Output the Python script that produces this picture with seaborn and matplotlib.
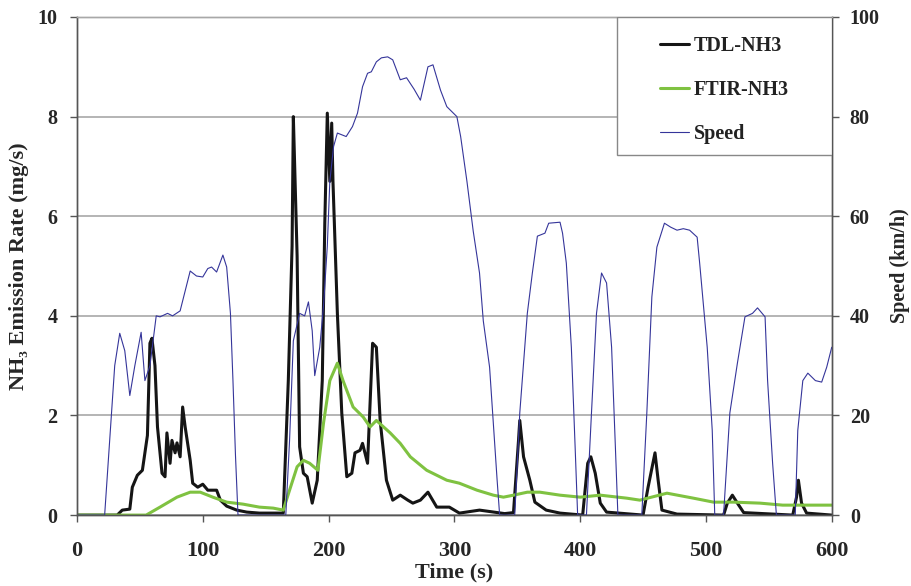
import matplotlib
matplotlib.use("Agg")
import matplotlib.pyplot as plt
from matplotlib.patches import Rectangle
import seaborn as sns

# Time (s) / speed (km/h)
speed_t = [0, 22, 26, 30, 34, 38, 42, 46, 51, 54, 58, 63, 66, 72, 76, 82, 86, 90, 95, 100,
           104, 107, 111, 116, 119, 122, 124, 126, 128, 166, 169, 172, 177, 181, 184, 187, 189,
           193, 196, 199, 201, 204, 207, 214, 219, 223, 227, 231, 234, 238, 242, 247, 251, 257,
           262, 268, 273, 279, 283, 289, 294, 302, 305, 310, 315, 320, 323, 328, 334, 336, 348,
           352, 358, 362, 366, 372, 375, 384, 386, 389, 393, 396, 398, 405, 409, 413, 417, 421,
           425, 428, 430, 449, 453, 457, 461, 467, 472, 477, 482, 487, 493, 495, 501, 505, 507,
           514, 519, 525, 531, 537, 541, 547, 549, 553, 556, 571, 573, 577, 581, 587, 592, 596, 600]
speed_v = [0, 0, 15, 30, 36.5, 33, 24, 30, 36.7, 27, 30, 40, 39.8, 40.5, 40, 41, 45, 49, 48, 47.8,
           49.5, 49.8, 48.8, 52.2, 49.8, 40.5, 27, 12, 0, 0, 15, 35, 40.5, 40, 42.8, 37, 28,
           33.7, 42, 54, 67, 74, 76.7, 76, 78, 80.7, 86, 88.7, 89, 91, 91.8, 92, 91.4, 87.4,
           87.8, 85.5, 83.3, 90, 90.4, 85.3, 82, 80, 76, 67, 57, 48.6, 39, 29.7, 7, 0, 0,
           20.5, 40.5, 48.6, 56, 56.6, 58.6, 58.8, 56.6, 50.6, 33.7, 13.7, 0, 0, 20.5, 40.5, 48.6, 46.6,
           33.7, 13.7, 0, 0, 20.5, 43.8, 53.8, 58.6, 57.8, 57.2, 57.5, 57.2, 55.8, 50.6, 33.7, 17, 0,
           0, 20.5, 30.5, 39.8, 40.5, 41.6, 39.8, 27, 10.4, 0, 0, 17, 27, 28.5, 27, 26.7, 29.7, 33.7]

# TDL-NH3 (mg/s)
tdl_t = [0, 32, 36, 42, 44, 48, 52, 56, 58, 59.6, 62, 64, 67.6, 70, 71.5, 74, 75.5, 78, 79.5, 82,
         84, 86, 90, 92, 96, 100, 104, 108, 111, 114, 119, 127, 135, 145, 164, 168, 171, 172,
         173, 175, 177, 180, 183, 187, 191, 195, 197, 199, 201, 202.5, 203.5, 207, 210.5, 214.5,
         218.5, 221, 225, 227, 231, 235, 238, 241, 246, 251, 257, 263, 267, 273, 279, 286, 296,
         304, 320, 340, 347, 351, 352, 355, 360, 364, 373, 384, 402, 406, 408.5, 412, 416, 421,
         450, 454, 459.5, 462, 465, 477, 514, 517, 521, 525, 530, 569, 572, 573.5, 576, 580, 600]
tdl_v = [0, 0, 0.1, 0.12, 0.56, 0.8, 0.9, 1.6, 3.45, 3.55, 3.0, 1.77, 0.84, 0.77, 1.65, 1.04, 1.5, 1.25, 1.45, 1.17,
         2.17, 1.77, 1.1, 0.64, 0.56, 0.62, 0.5, 0.5, 0.5, 0.3, 0.18, 0.1, 0.06, 0.04, 0.04, 2.7, 5.4, 8.0,
         7.07, 5.2, 1.37, 0.84, 0.77, 0.24, 0.7, 2.7, 5.86, 8.07, 6.7, 7.87, 6.7, 4.05, 2.05, 0.77,
         0.84, 1.25, 1.3, 1.44, 1.04, 3.45, 3.37, 1.9, 0.7, 0.3, 0.4, 0.3, 0.24, 0.3, 0.46, 0.16, 0.16,
         0.04, 0.1, 0.03, 0.05, 1.5, 1.9, 1.17, 0.7, 0.26, 0.1, 0.04, 0, 1.04, 1.17, 0.84, 0.24, 0.06,
         0, 0.56, 1.25, 0.7, 0.1, 0.02, 0, 0.24, 0.4, 0.24, 0.05, 0, 0.36, 0.7, 0.24, 0.04, 0]

# FTIR-NH3 (mg/s)
ftir_t = [0, 55, 66, 79.5, 90, 98, 108, 119, 132, 145, 156, 164, 169, 175, 180, 185, 191.5, 196,
          201, 207, 211.5, 219.5, 227.5, 233, 238, 249, 257, 265, 278, 294, 304, 318, 331, 339,
          347, 358, 368, 384, 400, 416, 437, 447.5, 469, 490, 506, 522, 543, 561, 580, 600]
ftir_v = [0, 0, 0.16, 0.36, 0.46, 0.46, 0.36, 0.26, 0.22, 0.16, 0.14, 0.1, 0.5, 0.97, 1.1, 1.04, 0.9, 1.85,
          2.7, 3.05, 2.7, 2.17, 1.97, 1.77, 1.9, 1.65, 1.44, 1.17, 0.9, 0.7, 0.64, 0.5, 0.4, 0.36,
          0.4, 0.46, 0.46, 0.4, 0.36, 0.4, 0.34, 0.3, 0.44, 0.34, 0.26, 0.26, 0.24, 0.2, 0.2, 0.2]

sns.set_style("white")
plt.rcParams['font.family'] = ['Liberation Serif', 'DejaVu Serif']
plt.rcParams['font.weight'] = 'bold'

fig = plt.figure(figsize=(9.12, 5.86), dpi=100)
ax = fig.add_axes([0.0844, 0.121, 0.8276, 0.850])
ax2 = ax.twinx()

sns.lineplot(x=tdl_t, y=tdl_v, ax=ax, color='#151515', lw=2.2, label='TDL-NH3', legend=False)
sns.lineplot(x=ftir_t, y=ftir_v, ax=ax, color='#7fc241', lw=2.2, label='FTIR-NH3', legend=False)
sns.lineplot(x=speed_t, y=speed_v, ax=ax2, color='#35359a', lw=0.8, label='Speed', legend=False)

ax.set_xlim(0, 600)
ax.set_ylim(0, 10)
ax2.set_ylim(0, 100)
ax.set_xticks(range(0, 601, 100))
ax.set_yticks(range(0, 11, 2))
ax2.set_yticks(range(0, 101, 20))

ax.yaxis.grid(True, color='#a8a8a8', lw=1.2)
ax.xaxis.grid(False)
ax2.grid(False)

for a in (ax, ax2):
    for s in a.spines.values():
        s.set_color('#555555')
        s.set_linewidth(1.0)
    a.spines['top'].set_color('#a8a8a8')
    a.tick_params(direction='out', length=5, width=1, color='#555555', labelsize=14.5)

ax.tick_params(axis='x', pad=14, bottom=True, labelsize=16)
ax.tick_params(axis='y', pad=9, left=True)
ax2.tick_params(axis='y', pad=8, right=True)

ax.set_xlabel('Time (s)', fontsize=16, fontweight='bold', labelpad=1)
ax.set_ylabel('NH₃ Emission Rate (mg/s)', fontsize=16, fontweight='bold', labelpad=6)
ax2.set_ylabel('Speed (km/h)', fontsize=14.5, fontweight='bold', labelpad=7)

# legend box
ax2.add_patch(Rectangle((0.715, 0.723), 0.285, 0.277, transform=ax2.transAxes,
                        facecolor='white', edgecolor='#888888', lw=1.0, zorder=5))
h1, l1 = ax.get_legend_handles_labels()
h2, l2 = ax2.get_legend_handles_labels()
leg = ax2.legend(h1 + h2, l1 + l2, loc='upper center', bbox_to_anchor=(0.8576, 1.0),
                 frameon=False, fontsize=14.5, handlelength=1.45, handletextpad=0.25,
                 labelspacing=1.2, borderpad=0, borderaxespad=0.95)
leg.set_zorder(6)
for t in leg.get_texts():
    t.set_fontweight('bold')
    t.set_color('#222222')

fig.savefig('out.png', dpi=100)
